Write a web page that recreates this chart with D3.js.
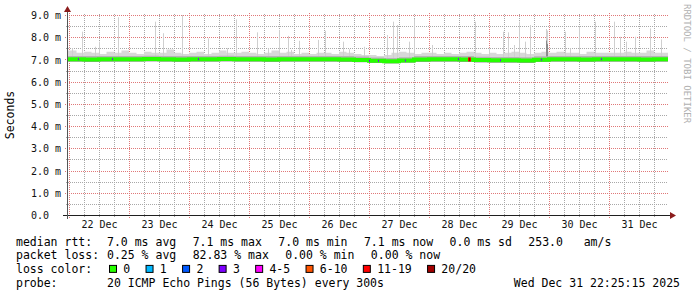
<!DOCTYPE html>
<html>
<head>
<meta charset="utf-8">
<script src="https://cdn.jsdelivr.net/npm/d3@7"></script>
<style>
    body { margin: 0; background: #fff; }
    text { font-family: "DejaVu Sans Mono", monospace; white-space: pre; }
</style>
</head>
<body>
<div id="container"></div>
<script>
/* CONSTANTS AND GLOBALS */
const width = 697,
    height = 297;

/* DATA */
const graphStart = "2025-12-21 23:12",
    graphEnd = "2025-12-31 23:12",
    firstDay = "2025-12-22 00:00";

const yTicks = [0, 1, 2, 3, 4, 5, 6, 7, 8, 9]; // ms
const dayLabels = ["22 Dec", "23 Dec", "24 Dec", "25 Dec", "26 Dec", "27 Dec", "28 Dec", "29 Dec", "30 Dec", "31 Dec"];

// median rtt (ms), one value per 6 hours from 22 Dec 00:00
const medianRtt = [
    7.01, 7.00, 7.01, 7.01,
    7.01, 7.02, 7.01, 7.00,
    7.01, 7.01, 7.02, 7.01,
    7.01, 7.00, 7.01, 7.01,
    7.01, 7.01, 7.00, 6.98,
    6.94, 6.92, 6.95, 7.00,
    7.01, 7.01, 7.00, 6.97,
    6.96, 6.96, 6.95, 6.99,
    7.01, 7.01, 7.00, 7.01,
    7.01, 7.01, 7.00, 7.01
];

// top of the light smoke (ms), one value per 3 hours from 22 Dec 00:00
const smokeTop = [
    7.40, 7.30, 7.35, 7.30, 7.25, 7.35, 7.30, 7.40,
    7.30, 7.25, 7.35, 7.30, 7.30, 7.45, 7.30, 7.25,
    7.30, 7.35, 7.25, 7.30, 7.40, 7.30, 7.30, 7.35,
    7.30, 7.25, 7.30, 7.40, 7.30, 7.35, 7.25, 7.30,
    7.25, 7.30, 7.30, 7.25, 7.35, 7.30, 7.25, 7.20,
    7.20, 7.15, 7.20, 7.30, 7.35, 7.30, 7.25, 7.30,
    7.30, 7.25, 7.30, 7.25, 7.30, 7.35, 7.30, 7.25,
    7.30, 7.25, 7.30, 7.35, 7.30, 7.25, 7.30, 7.35,
    7.30, 7.35, 7.30, 7.30, 7.25, 7.35, 7.30, 7.30,
    7.30, 7.30, 7.35, 7.30, 7.30, 7.40, 7.30, 7.30
];

// lowest ping (ms), one value per 6 hours
const smokeLow = [
    6.90, 6.89, 6.90, 6.90, 6.90, 6.91, 6.90, 6.89,
    6.90, 6.90, 6.91, 6.90, 6.90, 6.89, 6.90, 6.90,
    6.90, 6.90, 6.89, 6.87, 6.84, 6.82, 6.85, 6.89,
    6.90, 6.90, 6.89, 6.86, 6.85, 6.85, 6.84, 6.88,
    6.90, 6.90, 6.89, 6.90, 6.90, 6.90, 6.89, 6.90
];

// single high pings (day hh:mm, ms)
const spikeTimes = [
    "22 01:10", "22 05:20", "22 10:25", "22 12:00", "22 19:40", "23 10:25", "23 13:30", "23 21:05",
    "24 07:35", "24 15:05", "24 18:40", "25 03:20", "25 07:45", "25 12:05", "25 15:45", "25 16:50",
    "25 20:05", "26 03:45", "26 06:25", "26 13:30", "26 16:05", "26 22:05", "27 07:20", "27 09:30",
    "27 11:05", "27 16:05", "27 18:05", "28 01:05", "28 18:30", "28 23:55", "29 05:35", "29 07:35",
    "29 10:05", "29 12:05", "29 14:30", "29 16:15", "29 22:40", "29 23:05", "30 06:30", "30 08:15",
    "30 11:55", "30 18:15", "31 01:55", "31 04:15", "31 06:55", "31 10:30", "31 16:15", "31 20:55"
];
const spikeMax = [
    7.50, 8.25, 7.57, 7.80, 8.90, 8.70, 8.18, 9.00,
    7.95, 7.50, 8.80, 8.22, 7.50, 8.33, 8.06, 7.43,
    7.84, 7.88, 8.29, 7.80, 7.46, 7.57, 8.10, 8.70,
    8.55, 7.80, 8.82, 7.65, 8.70, 7.50, 8.25, 8.22,
    7.65, 8.70, 7.80, 8.55, 8.37, 8.30, 8.25, 7.50,
    8.48, 8.70, 8.70, 8.02, 7.80, 8.02, 8.40, 7.90
];

// several high pings in one step (darker smoke)
const denseTimes = ["29 22:40", "29 23:05"];
const denseMax = [7.85, 7.70];

// loss per step (out of 20) where it was not zero
const lossTimes = ["22 03:29", "22 17:05", "24 03:43", "27 00:07", "27 03:43", "27 14:24", "28 11:43",
    "28 15:40", "28 16:05", "28 16:30", "29 04:17", "29 20:48", "30 20:48"];
const lossCounts = [3, 3, 3, 3, 3, 3, 3, 16, 20, 16, 3, 3, 3];

const lossLabels = ["0", "1", "2", "3", "4-5", "6-10", "11-19", "20/20"];
const lossLimits = [0, 1, 2, 3, 5, 10, 19, 20];
const lossColors = ["#26ff00", "#00b8ff", "#0059ff", "#7e00ff", "#ff00ff", "#ff5500", "#ff0000", "#a10000"];

const rttStats = [7.0, 7.1, 7.0, 7.1, 0.0];
const rttNames = ["avg", "max", "min", "now", "sd"];
const amPerSec = 253.0;
const lossStats = [0.25, 82.83, 0.00, 0.00];
const lossNames = ["avg", "max", "min", "now"];
const probeText = "20 ICMP Echo Pings (56 Bytes) every 300s";
const stampText = "Wed Dec 31 22:25:15 2025";

/* SCALES */
const parseTime = d3.timeParse("%Y-%m-%d %H:%M");
const dayTime = s => parseTime("2025-12-" + s);
const t0 = parseTime(graphStart),
    t1 = parseTime(graphEnd),
    day0 = parseTime(firstDay);

const xScale = d3.scaleTime()
    .domain([t0, t1])
    .range([67, 667]);

const yScale = d3.scaleLinear()
    .domain([0, 9])
    .range([215, 15]);

const X0 = xScale.range()[0], X1 = xScale.range()[1],
    Y0 = yScale.range()[0], Y1 = yScale.range()[1];

const lossColor = n => lossColors[lossLimits.findIndex(l => n <= l)];

const svg = d3.select("#container")
    .append("svg")
    .attr("width", width)
    .attr("height", height)
    .style("background-color", "#fff");

svg.append("clipPath").attr("id", "plot")
    .append("rect")
    .attr("x", X0 + 1).attr("y", Y1 - 1)
    .attr("width", X1 - X0).attr("height", Y0 - Y1 + 1);

// GRID
const grid = svg.append("g").attr("shape-rendering", "crispEdges");

const minorT = d3.timeHour.every(6).range(t0, t1).filter(d => d.getHours() !== 0);
const majorT = d3.timeDay.range(t0, t1);
const minorY = d3.range(0.5, 9, 1);
const minorCol = "#a8a8a8", majorCol = "#e07878";

grid.selectAll(".vmin").data(minorT).join("line")
    .attr("x1", d => Math.round(xScale(d)) + 0.5).attr("x2", d => Math.round(xScale(d)) + 0.5)
    .attr("y1", Y0 + 2).attr("y2", Y1 - 2)
    .attr("stroke", minorCol).attr("stroke-dasharray", "1,1");

grid.selectAll(".hmin").data(minorY).join("line")
    .attr("x1", X0 - 1).attr("x2", X1 + 1)
    .attr("y1", d => Math.round(yScale(d)) + 0.5).attr("y2", d => Math.round(yScale(d)) + 0.5)
    .attr("stroke", minorCol).attr("stroke-dasharray", "1,1");

grid.selectAll(".vmaj").data(majorT).join("line")
    .attr("x1", d => Math.round(xScale(d)) + 0.5).attr("x2", d => Math.round(xScale(d)) + 0.5)
    .attr("y1", Y0 + 3).attr("y2", Y1 - 2)
    .attr("stroke", majorCol).attr("stroke-dasharray", "1,1");

grid.selectAll(".hmaj").data(yTicks.slice(1)).join("line")
    .attr("x1", X0 - 2).attr("x2", X1 + 2)
    .attr("y1", d => Math.round(yScale(d)) + 0.5).attr("y2", d => Math.round(yScale(d)) + 0.5)
    .attr("stroke", majorCol).attr("stroke-dasharray", "1,1");

// SMOKE
const plot = svg.append("g").attr("clip-path", "url(#plot)");

const medAt = t => {
    const i = Math.max(0, Math.min(medianRtt.length - 1, Math.floor((t - day0) / 216e5)));
    return medianRtt[i];
};

const steps = (vals, hours) => [{ t: t0, v: vals[0] }]
    .concat(vals.map((v, i) => ({ t: d3.timeHour.offset(day0, hours * i), v: v })))
    .concat([{ t: d3.timeHour.offset(day0, hours * vals.length), v: vals[vals.length - 1] }]);

const medPts = steps(medianRtt, 6),
    topPts = steps(smokeTop, 3),
    lowPts = steps(smokeLow, 6);

plot.append("path")
    .datum(topPts)
    .attr("fill", "#d8d8d8")
    .attr("d", d3.area().curve(d3.curveStepAfter)
        .x(d => xScale(d.t)).y0(d => yScale(medAt(d.t))).y1(d => yScale(d.v)));

plot.selectAll(".spike").data(spikeTimes).join("rect")
    .attr("x", d => Math.round(xScale(dayTime(d))))
    .attr("width", 1)
    .attr("y", (d, i) => yScale(spikeMax[i]))
    .attr("height", (d, i) => yScale(medAt(dayTime(d))) - yScale(spikeMax[i]))
    .attr("fill", "#cfcfcf");

plot.selectAll(".dense").data(denseTimes).join("rect")
    .attr("x", d => Math.round(xScale(dayTime(d))))
    .attr("width", 1)
    .attr("y", (d, i) => yScale(denseMax[i]))
    .attr("height", (d, i) => yScale(medAt(dayTime(d))) - yScale(denseMax[i]))
    .attr("fill", "#8a8a8a");

plot.append("path")
    .datum(medPts)
    .attr("fill", "#b4b4b4")
    .attr("d", d3.area().curve(d3.curveStepAfter)
        .x(d => xScale(d.t)).y0(d => yScale(d.v)).y1(d => yScale(d.v + 0.15)));

plot.append("path")
    .datum(lowPts)
    .attr("fill", "#9a9a9a")
    .attr("d", d3.area().curve(d3.curveStepAfter)
        .x(d => xScale(d.t)).y0(d => yScale(d.v)).y1(d => yScale(medAt(d.t))));

// MEDIAN
plot.append("path")
    .datum(medPts)
    .attr("fill", "none")
    .attr("stroke", lossColors[0])
    .attr("stroke-width", 4)
    .attr("d", d3.line().curve(d3.curveStepAfter)
        .x(d => xScale(d.t)).y(d => yScale(d.v)));

plot.selectAll(".loss").data(lossTimes).join("rect")
    .attr("x", d => Math.round(xScale(dayTime(d))))
    .attr("width", 1)
    .attr("y", (d, i) => yScale(medAt(dayTime(d))) - (lossCounts[i] > 10 ? 2 : 1))
    .attr("height", (d, i) => lossCounts[i] > 10 ? 4 : 2)
    .attr("fill", (d, i) => lossColor(lossCounts[i]));

// AXES
const yAxis = d3.axisLeft(yScale)
    .tickValues(yTicks)
    .tickSize(0)
    .tickPadding(6)
    .tickFormat(d => d === 0 ? "0.0" : d3.format(".1f")(d) + " m");

svg.append("g")
    .attr("transform", `translate(${X0},0)`)
    .call(yAxis)
    .call(g => g.select(".domain").remove())
    .call(g => g.selectAll("text")
        .attr("dx", d => d === 0 ? -12 : 0)
        .attr("dy", "0.36em")
        .style("font-family", "DejaVu Sans Mono")
        .style("font-size", "10px")
        .attr("fill", "#111"));

const xAxis = d3.axisBottom(xScale)
    .tickValues(majorT.map(d => d3.timeHour.offset(d, 12)))
    .tickSize(0)
    .tickPadding(6)
    .tickFormat((d, i) => dayLabels[i]);

svg.append("g")
    .attr("transform", `translate(0,${Y0})`)
    .call(xAxis)
    .call(g => g.select(".domain").remove())
    .call(g => g.selectAll("text")
        .style("font-family", "DejaVu Sans Mono")
        .style("font-size", "10px")
        .attr("fill", "#111"));

const axes = svg.append("g").attr("shape-rendering", "crispEdges");
axes.append("line")
    .attr("x1", X0 - 4).attr("x2", X1 + 4)
    .attr("y1", Y0 + 0.5).attr("y2", Y0 + 0.5)
    .attr("stroke", "#1f1f1f");
axes.append("line")
    .attr("x1", X0 + 0.5).attr("x2", X0 + 0.5)
    .attr("y1", Y0 + 4).attr("y2", Y1 - 4)
    .attr("stroke", "#555");

svg.append("path")
    .attr("d", `M${X1 + 3},${Y0 - 3}L${X1 + 9},${Y0 + 0.5}L${X1 + 3},${Y0 + 4}Z`)
    .attr("fill", "#8b1c1c");
svg.append("path")
    .attr("d", `M${X0 - 3},${Y1 - 3}L${X0 + 0.5},${Y1 - 9}L${X0 + 4},${Y1 - 3}Z`)
    .attr("fill", "#8b1c1c");

// LABELS
svg.append("text")
    .attr("transform", `translate(14,${(Y0 + Y1) / 2}) rotate(-90)`)
    .attr("text-anchor", "middle")
    .style("font-size", "11.5px")
    .text("Seconds");

svg.append("text")
    .attr("transform", "translate(684,4) rotate(90)")
    .style("font-size", "9px")
    .attr("fill", "#b0b0b0")
    .text("RRDTOOL / TOBI OETIKER");

// LEGEND
const legend = svg.append("g").style("font-size", "11.5px").attr("fill", "#000");
const rowY = [245.5, 259.2, 272.9, 286.6];
const gap = 16.4;

const row = (label, items, yy) => {
    legend.append("text").attr("x", 16).attr("y", yy).text(label);
    let cx = 107;
    items.forEach(s => {
        const t = legend.append("text").attr("x", cx).attr("y", yy)
            .attr("xml:space", "preserve").text(s);
        cx += t.node().getComputedTextLength() + gap;
    });
};

row("median rtt:", rttStats.map((v, i) => d3.format(".1f")(v) + " ms " + rttNames[i])
    .concat([d3.format(".1f")(amPerSec) + "   am/s"]), rowY[0]);
row("packet loss:", lossStats.map((v, i) => d3.format(".2f")(v) + " % " + lossNames[i]), rowY[1]);

legend.append("text").attr("x", 16).attr("y", rowY[2]).text("loss color:");
let lx = 109;
lossLabels.forEach((l, i) => {
    legend.append("rect")
        .attr("x", lx + 0.5).attr("y", rowY[2] - 7.5)
        .attr("width", 7).attr("height", 7)
        .attr("fill", lossColors[i])
        .attr("stroke", "#000");
    const t = legend.append("text").attr("x", lx + 14.3).attr("y", rowY[2]).text(l);
    lx += 14.3 + t.node().getComputedTextLength() + 15.3;
});

legend.append("text").attr("x", 16).attr("y", rowY[3]).text("probe:");
legend.append("text").attr("x", 107).attr("y", rowY[3]).text(probeText);
legend.append("text").attr("x", 680).attr("y", rowY[3]).attr("text-anchor", "end").text(stampText);
</script>
</body>
</html>
